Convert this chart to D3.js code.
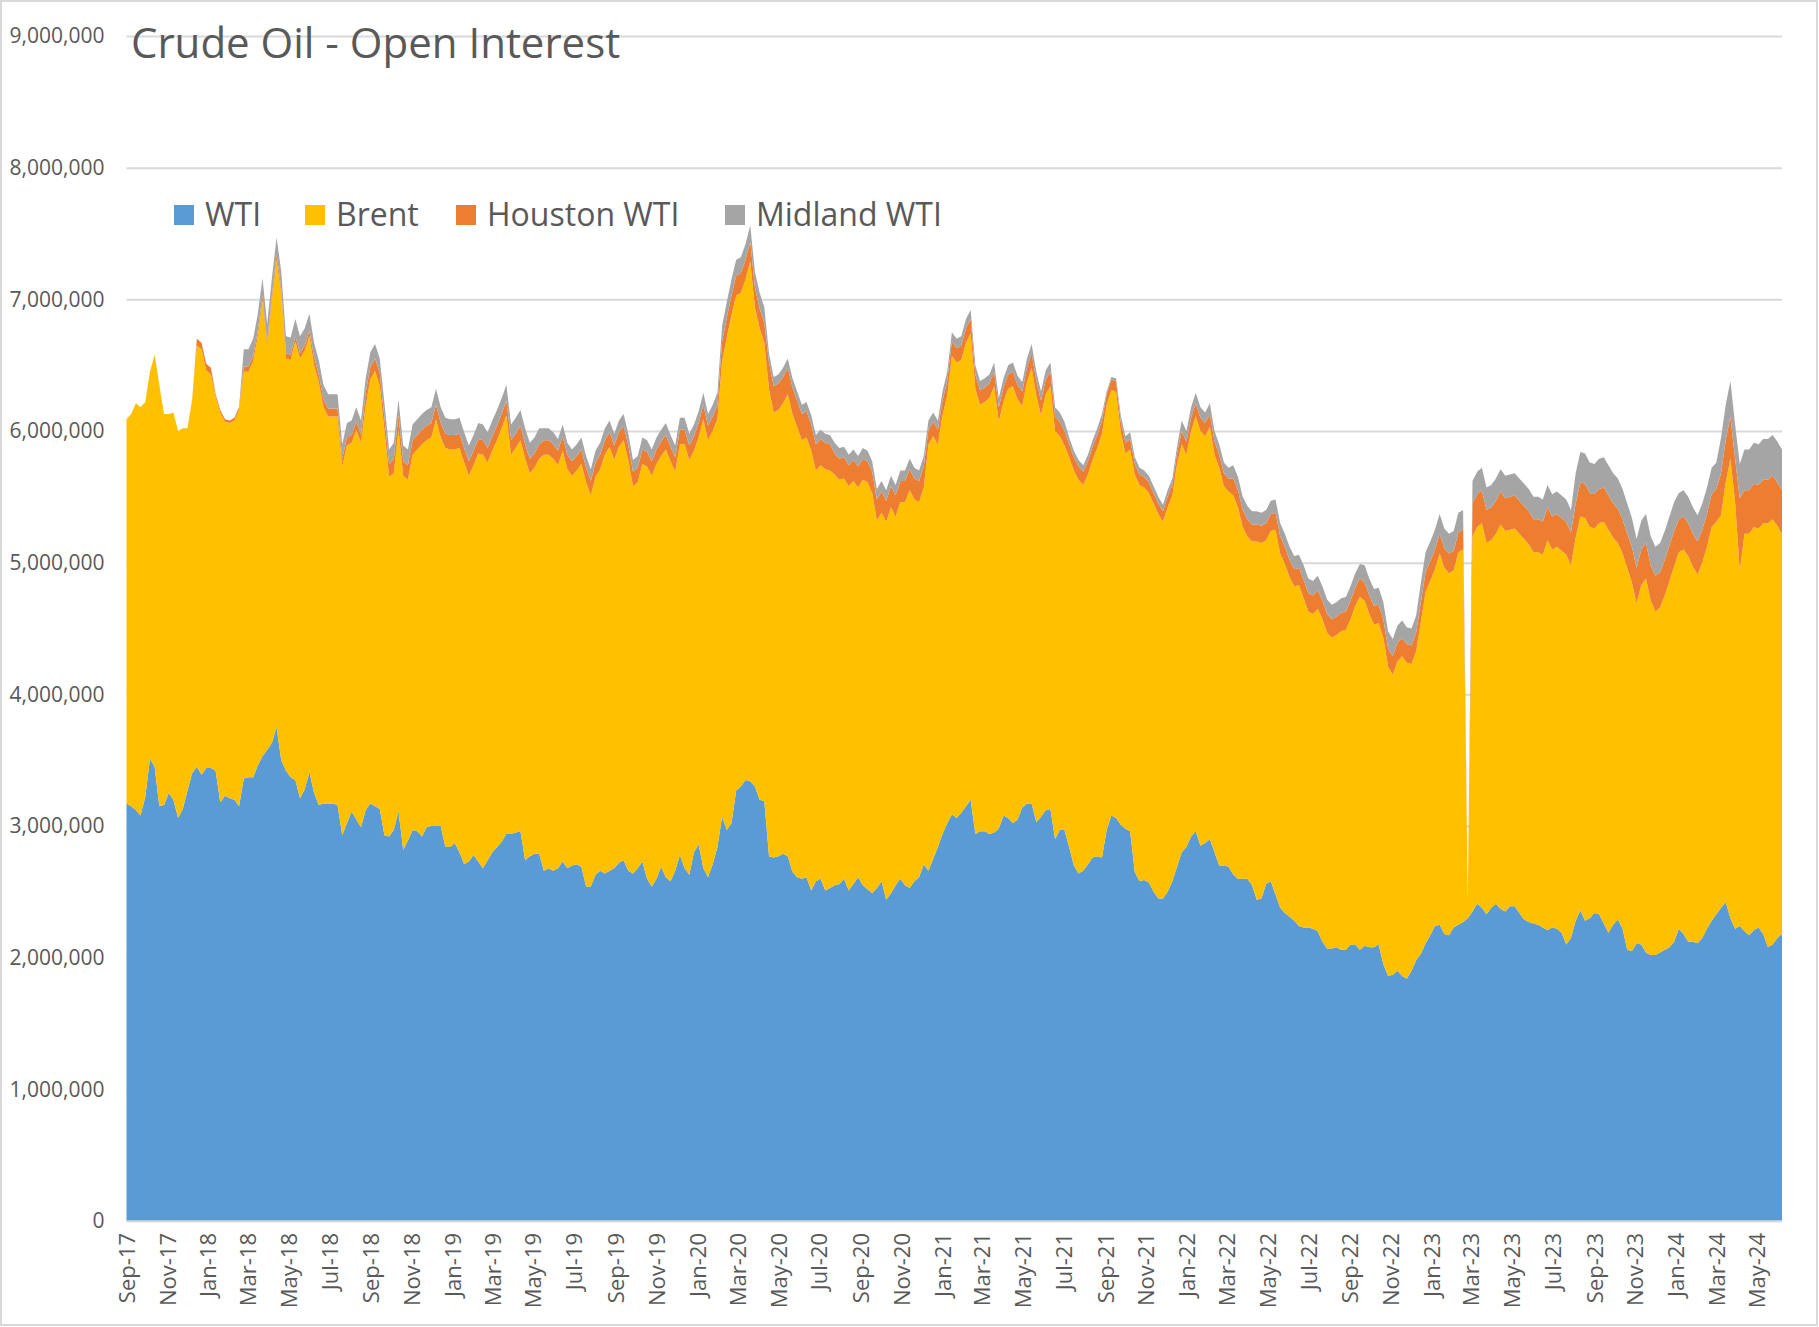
<!DOCTYPE html>
<html>
<head>
<meta charset="utf-8">
<style>
  body { margin: 0; background: #fff; }
  svg { display: block; font-family: "Open Sans", "Noto Sans", sans-serif; }
</style>
</head>
<body>
<svg id="chart" width="1819" height="1327"></svg>
<script src="https://cdn.jsdelivr.net/npm/d3@7"></script>
<script>
// weekly open interest, thousands of contracts, first report 5 Sep 2017
var wti = [
  3170,3150,3120,3080,3220,3510,3450,3150,3160,3250,3200,3060,3130,3270,3400,3450,3390,3440,3440,3420,
  3180,3230,3210,3200,3150,3360,3370,3370,3460,3530,3580,3630,3750,3500,3420,3370,3350,3210,3280,3410,
  3250,3160,3170,3170,3170,3160,2930,3020,3110,3050,2990,3120,3170,3150,3130,2930,2920,2970,3110,2820,
  2890,2970,2960,2920,2990,3000,3000,3000,2840,2840,2870,2800,2710,2730,2780,2730,2680,2740,2800,2840,
  2880,2940,2940,2950,2960,2740,2770,2790,2790,2660,2680,2660,2680,2730,2680,2700,2710,2690,2540,2540,
  2630,2660,2640,2660,2680,2720,2740,2660,2640,2680,2730,2600,2540,2600,2690,2610,2580,2660,2780,2680,
  2630,2800,2860,2680,2610,2710,2840,3070,2970,3020,3270,3300,3350,3340,3300,3200,3190,2770,2760,2770,
  2790,2770,2650,2610,2600,2610,2510,2580,2600,2510,2530,2550,2560,2600,2510,2560,2610,2550,2520,2490,
  2530,2580,2440,2490,2550,2600,2550,2530,2580,2610,2710,2660,2750,2840,2940,3020,3090,3060,3100,3150,
  3200,2940,2960,2960,2940,2950,2980,3080,3060,3020,3050,3140,3170,3170,3030,3070,3120,3130,2900,2970,
  2970,2840,2700,2640,2660,2710,2760,2770,2760,2970,3080,3060,3010,2980,2960,2650,2580,2590,2570,2500,
  2450,2450,2500,2580,2690,2800,2840,2920,2960,2850,2870,2900,2800,2700,2700,2690,2630,2600,2600,2600,
  2550,2440,2450,2560,2580,2480,2380,2340,2310,2280,2240,2230,2230,2220,2200,2120,2070,2070,2080,2060,
  2060,2100,2100,2060,2090,2080,2080,2100,1950,1860,1870,1900,1860,1840,1900,1980,2030,2110,2170,2240,
  2250,2180,2170,2230,2250,2270,2300,2350,2410,2380,2330,2380,2410,2370,2350,2390,2390,2340,2290,2270,
  2260,2250,2230,2210,2230,2220,2190,2100,2150,2280,2360,2280,2300,2340,2330,2260,2190,2250,2290,2220,
  2060,2050,2110,2100,2040,2020,2020,2040,2060,2080,2120,2220,2180,2120,2120,2110,2150,2220,2280,2330,
  2380,2420,2300,2220,2240,2200,2170,2210,2230,2180,2080,2100,2150,2180
];
var brent = [
  2920,2980,3090,3100,3000,2940,3130,3200,2970,2880,2940,2940,2890,2750,2840,3200,3230,3020,2990,2840,
  2960,2840,2850,2880,3010,3090,3080,3160,3260,3460,3060,3360,3550,3540,3130,3170,3330,3340,3330,3310,
  3250,3210,3010,2940,2940,2950,2800,2870,2800,2960,2920,3075,3225,3305,3215,3075,2735,2710,2900,2840,
  2740,2850,2900,2980,2940,2950,3090,2950,3030,3020,2990,3070,3050,2930,2960,3100,3140,3020,3050,3090,
  3140,3180,2880,2920,2970,3050,2910,2930,3000,3160,3140,3130,3060,3120,3030,2960,2990,3060,3070,2970,
  3020,3050,3180,3220,3100,3160,3190,3120,2940,2930,3020,3130,3120,3150,3120,3250,3190,3030,3120,3220,
  3150,3050,3090,3410,3320,3290,3250,3460,3740,3860,3760,3750,3800,3950,3640,3580,3480,3550,3380,3390,
  3420,3510,3480,3420,3330,3340,3340,3120,3140,3200,3170,3120,3070,3040,3070,3060,2960,3080,3090,3040,
  2790,2800,2870,2930,2800,2860,2910,3020,2900,2850,2860,3240,3210,3060,3180,3250,3480,3460,3440,3520,
  3540,3380,3240,3260,3310,3390,3090,3140,3260,3320,3190,3050,3200,3310,3240,3050,3160,3210,3100,2990,
  2920,2960,3000,2990,2930,2960,3020,3100,3220,3230,3230,3240,2980,2850,2900,3020,3010,2980,2960,2950,
  2920,2860,2920,2930,3060,3100,2980,3080,3150,3150,3090,3130,3020,3020,2880,2850,2880,2820,2670,2600,
  2610,2720,2700,2610,2660,2770,2690,2650,2580,2540,2590,2500,2400,2390,2450,2450,2400,2360,2370,2420,
  2430,2470,2570,2680,2620,2530,2450,2440,2480,2350,2280,2350,2430,2400,2330,2350,2520,2670,2690,2710,
  2820,2780,2750,2710,2830,2830,150,2850,2860,2920,2820,2790,2810,2920,2890,2860,2870,2880,2890,2870,
  2820,2830,2830,2960,2870,2900,2900,2960,2830,2910,2990,3060,2970,2920,2970,3050,3060,2940,2860,2850,
  2900,2800,2580,2730,2840,2690,2610,2620,2690,2780,2850,2860,2920,2930,2850,2800,2850,2900,2990,2980,
  2980,3190,3490,3240,2700,3020,3050,3060,3030,3120,3220,3230,3130,3040
];
var houston = [
  0,0,0,0,0,0,0,0,0,0,0,0,0,0,0,50,50,50,50,20,
  20,20,20,20,20,40,40,40,40,40,40,40,40,40,40,40,40,40,40,40,
  60,60,60,60,60,60,60,60,60,60,60,95,95,95,95,95,95,110,110,110,
  110,110,110,110,110,110,110,110,110,110,110,110,110,110,110,110,110,110,110,110,
  110,110,110,110,110,110,110,110,110,110,110,110,110,110,110,110,110,110,110,110,
  110,110,110,110,110,110,110,110,110,110,110,110,110,110,110,110,110,110,110,110,
  110,110,110,110,110,110,110,150,150,150,150,150,150,150,150,150,150,200,200,200,
  200,200,200,200,200,200,200,200,200,200,200,160,160,160,160,160,160,160,160,160,
  160,160,160,160,160,160,160,160,160,160,160,110,110,110,110,110,110,110,110,110,
  110,110,110,110,110,110,110,110,110,110,110,110,110,110,110,110,110,110,110,110,
  110,100,100,100,100,100,100,100,100,80,80,80,80,80,80,80,80,80,80,80,
  80,80,80,80,80,100,100,100,100,100,100,100,100,100,100,100,130,130,130,130,
  130,130,130,130,130,130,130,130,130,130,130,140,140,140,140,140,140,140,140,140,
  140,140,140,140,140,140,140,140,140,140,140,140,140,140,140,140,150,150,150,150,
  150,150,150,150,150,150,0,250,250,250,250,250,250,250,250,250,250,250,250,250,
  250,250,250,250,250,250,250,250,250,260,260,260,260,260,260,260,260,260,260,260,
  260,270,270,270,270,270,270,270,270,270,270,250,250,250,250,250,250,250,250,250,
  320,320,320,330,550,330,330,330,330,330,330,330,330,330
];
var midland = [
  0,0,0,0,0,0,0,0,0,0,0,0,0,0,0,0,0,0,0,0,
  0,0,0,0,0,130,130,130,130,130,130,130,130,130,130,130,130,130,130,130,
  110,110,110,110,110,110,110,110,110,110,110,110,110,110,110,110,110,120,120,120,
  120,120,120,120,120,120,120,120,120,120,120,120,120,120,120,120,120,120,120,120,
  120,120,120,120,120,120,120,120,120,90,90,90,90,90,90,90,90,90,90,90,
  90,90,90,90,90,90,90,90,90,90,90,90,90,90,90,90,90,90,90,90,
  90,90,90,90,90,90,90,120,120,120,120,120,120,120,120,120,120,70,70,70,
  70,70,70,70,70,70,70,70,70,70,70,80,80,80,80,80,80,80,80,80,
  80,80,80,80,80,80,80,80,80,80,80,70,70,70,70,70,70,70,70,70,
  70,70,70,70,70,70,70,70,70,70,70,70,70,70,70,70,70,70,70,70,
  70,50,50,50,50,50,50,50,50,20,20,20,50,50,50,50,50,50,50,50,
  50,50,50,50,50,80,80,80,80,80,80,80,80,80,80,80,100,100,100,100,
  100,100,100,100,100,100,100,100,100,100,100,110,110,110,110,110,110,110,110,110,
  110,110,110,110,130,130,130,130,130,130,130,130,130,130,130,130,150,150,150,150,
  150,150,150,150,150,150,0,170,170,170,170,170,170,170,170,170,170,170,170,170,
  170,170,170,170,170,170,170,170,170,230,230,230,230,230,230,230,230,230,230,230,
  230,220,220,220,220,220,220,220,220,220,220,200,200,200,200,200,200,200,200,200,
  270,270,270,260,260,310,310,310,310,310,310,310,310,310
];
var seriesNames = ["WTI", "Brent", "Houston WTI", "Midland WTI"];
var colors = ["#5B9BD5", "#FFC000", "#ED7D31", "#A5A5A5"];
var yTicks = [0, 1000, 2000, 3000, 4000, 5000, 6000, 7000, 8000, 9000];

var start = new Date(2017, 8, 5);
var rows = wti.map(function(d, i) {
  return {
    date: d3.timeDay.offset(start, 7 * i),
    "WTI": d,
    "Brent": brent[i],
    "Houston WTI": houston[i],
    "Midland WTI": midland[i]
  };
});
var xTicks = d3.range(0, 41).map(function(k) { return d3.timeMonth.offset(start, 2 * k); });

var svg = d3.select("#chart");
var plotLeft = 126.5, plotRight = 1782, plotTop = 36, plotBottom = 1221;

svg.append("rect")
  .attr("x", 1).attr("y", 1).attr("width", 1816).attr("height", 1324)
  .attr("fill", "#fff").attr("stroke", "#d9d9d9").attr("stroke-width", 2);

var x = d3.scaleTime()
  .domain(d3.extent(rows, function(d) { return d.date; }))
  .range([plotLeft, plotRight]);
var y = d3.scaleLinear().domain([0, 9000]).range([plotBottom, plotTop]);

// gridlines + y labels
var yAxis = svg.append("g")
  .attr("transform", "translate(" + plotLeft + ",0)")
  .call(d3.axisLeft(y).tickValues(yTicks)
    .tickSize(-(plotRight - plotLeft)).tickPadding(22)
    .tickFormat(function(d) { return d3.format(",")(d * 1000); }));
yAxis.select(".domain").remove();
yAxis.selectAll("line").attr("stroke", "#d9d9d9").attr("stroke-width", 2);
yAxis.selectAll("text").attr("fill", "#595959").style("font-size", "21px")
  .style("font-family", "'Open Sans', sans-serif");

var stack = d3.stack().keys(seriesNames);
var layers = stack(rows);

var area = d3.area()
  .x(function(d) { return x(d.data.date); })
  .y0(function(d) { return y(d[0]); })
  .y1(function(d) { return y(d[1]); });

svg.append("g").selectAll("path")
  .data(layers)
  .join("path")
  .attr("fill", function(d, i) { return colors[i]; })
  .attr("d", area);

svg.append("line")
  .attr("x1", plotLeft).attr("x2", plotRight).attr("y1", plotBottom).attr("y2", plotBottom)
  .attr("stroke", "#d9d9d9").attr("stroke-width", 1.5);

// x labels
var xAxis = svg.append("g")
  .attr("transform", "translate(0," + plotBottom + ")")
  .call(d3.axisBottom(x).tickValues(xTicks).tickSize(0)
    .tickFormat(d3.timeFormat("%b-%y")));
xAxis.select(".domain").remove();
xAxis.selectAll("text")
  .attr("transform", "rotate(-90)")
  .attr("x", -12).attr("y", 0).attr("dy", "0.35em")
  .style("text-anchor", "end")
  .attr("fill", "#595959").style("font-size", "22px")
  .style("font-family", "'Open Sans', sans-serif");

// title
svg.append("text")
  .attr("x", 131).attr("y", 58)
  .attr("fill", "#595959")
  .style("font-size", "42px")
  .text("Crude Oil - Open Interest");

// legend
var legendX = [174, 305, 456, 725];
var legend = svg.append("g").selectAll("g")
  .data(seriesNames)
  .join("g")
  .attr("transform", function(d, i) { return "translate(" + legendX[i] + ",205)"; });
legend.append("rect")
  .attr("width", 20).attr("height", 20)
  .attr("fill", function(d, i) { return colors[i]; });
legend.append("text")
  .attr("x", 31).attr("y", 21)
  .attr("fill", "#595959")
  .style("font-size", "32px")
  .text(function(d) { return d; });
</script>
</body>
</html>
